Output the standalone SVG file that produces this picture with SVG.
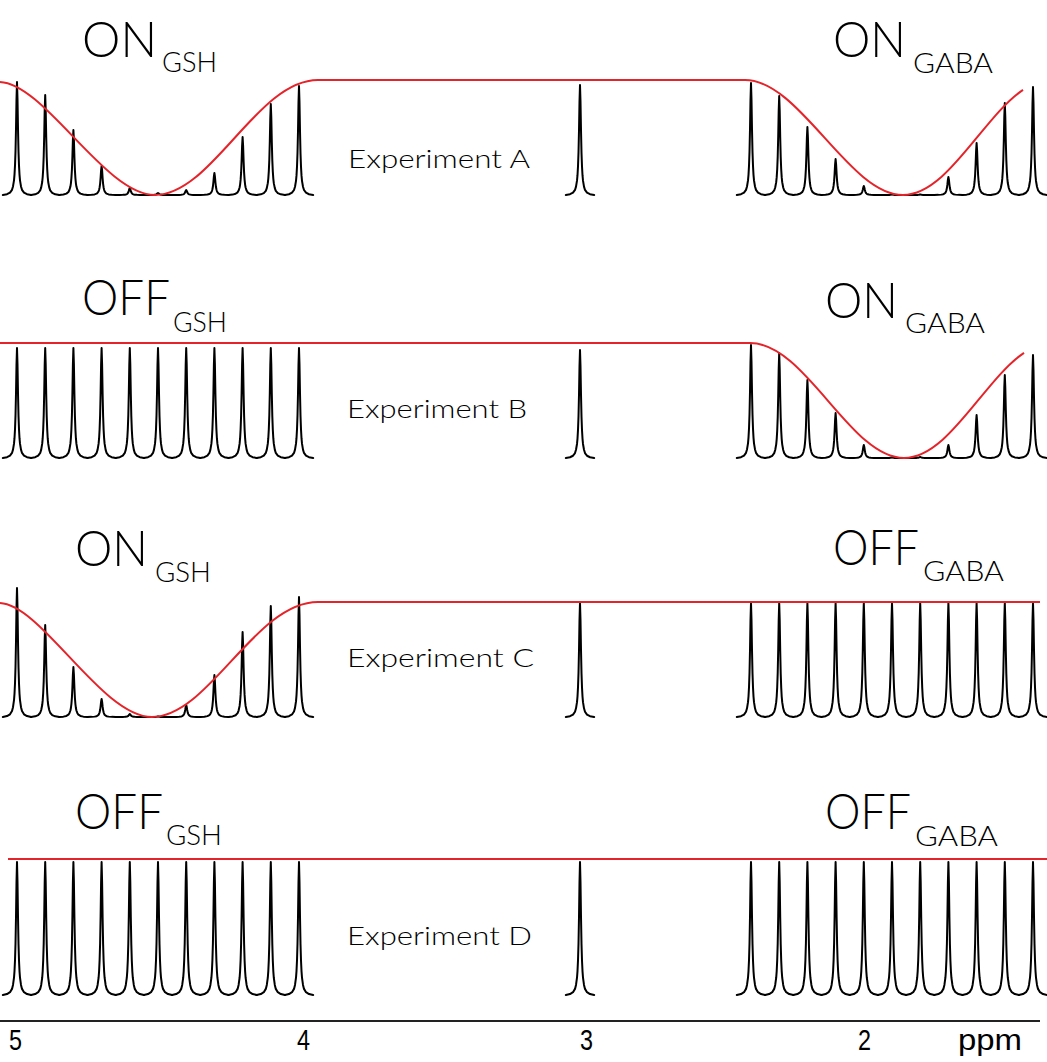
<svg xmlns="http://www.w3.org/2000/svg" xmlns:xlink="http://www.w3.org/1999/xlink" width="1047" height="1062" viewBox="0 0 1047 1062">
<style>
.pk{fill:none;stroke:#000;stroke-width:2;stroke-linejoin:round;stroke-linecap:round;vector-effect:non-scaling-stroke}
.red{fill:none;stroke:#e4242a;stroke-width:2}
.big{font-family:Lato,"Open Sans",sans-serif;font-weight:300;font-size:50px;fill:#000}
.sub{font-family:Lato,"Open Sans",sans-serif;font-weight:300;font-size:28px;fill:#000}
.exp{font-family:Lato,"Open Sans",sans-serif;font-weight:300;font-size:26px;fill:#000}
.ax{font-family:"Liberation Sans",Arial,sans-serif;font-size:29px;fill:#000}
</style>
<defs>
<path id="pk" class="pk" d="M-14.2,0 L-10,-0.7 L-7,-2.1 L-5,-4.6 L-4,-7.6 L-3,-13 L-2.5,-18 L-2,-26 L-1.5,-38.5 L-1,-58.8 L-0.5,-85 L0,-100 L0.5,-85 L1,-58.8 L1.5,-38.5 L2,-26 L2.5,-18 L3,-13 L4,-7.6 L5,-4.6 L7,-2.1 L10,-0.7 L14.2,0"/>
</defs>
<rect width="1047" height="1062" fill="#fff"/>

<g id="expA">
<use href="#pk" transform="translate(17,195) scale(1,1.13)"/>
<use href="#pk" transform="translate(45.2,195) scale(1,1.00)"/>
<use href="#pk" transform="translate(73.4,195) scale(1,0.65)"/>
<use href="#pk" transform="translate(101.6,195) scale(1,0.29)"/>
<use href="#pk" transform="translate(129.8,195) scale(1,0.07)"/>
<use href="#pk" transform="translate(158,195) scale(1,0.02)"/>
<use href="#pk" transform="translate(186.2,195) scale(1,0.05)"/>
<use href="#pk" transform="translate(214.4,195) scale(1,0.22)"/>
<use href="#pk" transform="translate(242.6,195) scale(1,0.58)"/>
<use href="#pk" transform="translate(270.8,195) scale(1,0.91)"/>
<use href="#pk" transform="translate(299,195) scale(1,1.09)"/>
<use href="#pk" transform="translate(580,195) scale(1,1.10)"/>
<use href="#pk" transform="translate(751,195) scale(1,1.12)"/>
<use href="#pk" transform="translate(779.2,195) scale(1,0.99)"/>
<use href="#pk" transform="translate(807.4,195) scale(1,0.68)"/>
<use href="#pk" transform="translate(835.6,195) scale(1,0.36)"/>
<use href="#pk" transform="translate(863.8,195) scale(1,0.09)"/>
<use href="#pk" transform="translate(892,195) scale(1,0.005)"/>
<use href="#pk" transform="translate(920.2,195) scale(1,0.005)"/>
<use href="#pk" transform="translate(948.4,195) scale(1,0.18)"/>
<use href="#pk" transform="translate(976.6,195) scale(1,0.52)"/>
<use href="#pk" transform="translate(1004.8,195) scale(1,0.92)"/>
<use href="#pk" transform="translate(1033,195) scale(1,1.08)"/>
<path class="red" d="M0,82 C45,84 105,195 155,195 C212,195 257,80 318,80 L745,80 C800,80 849,195 903,195 C947.3,195 982.1,117.7 1023,89.8"/>
<text class="big" x="82" y="57" textLength="75" lengthAdjust="spacingAndGlyphs">ON</text>
<text class="sub" x="162" y="72" textLength="55" lengthAdjust="spacingAndGlyphs">GSH</text>
<text class="big" x="833" y="57" textLength="73" lengthAdjust="spacingAndGlyphs">ON</text>
<text class="sub" x="913" y="73" textLength="80" lengthAdjust="spacingAndGlyphs">GABA</text>
<text class="exp" x="348" y="168" textLength="182" lengthAdjust="spacingAndGlyphs">Experiment A</text>
</g>

<g id="expB">
<use href="#pk" transform="translate(17,458) scale(1,1.10)"/>
<use href="#pk" transform="translate(45.2,458) scale(1,1.10)"/>
<use href="#pk" transform="translate(73.4,458) scale(1,1.10)"/>
<use href="#pk" transform="translate(101.6,458) scale(1,1.10)"/>
<use href="#pk" transform="translate(129.8,458) scale(1,1.10)"/>
<use href="#pk" transform="translate(158,458) scale(1,1.10)"/>
<use href="#pk" transform="translate(186.2,458) scale(1,1.10)"/>
<use href="#pk" transform="translate(214.4,458) scale(1,1.10)"/>
<use href="#pk" transform="translate(242.6,458) scale(1,1.10)"/>
<use href="#pk" transform="translate(270.8,458) scale(1,1.10)"/>
<use href="#pk" transform="translate(299,458) scale(1,1.10)"/>
<use href="#pk" transform="translate(580,458) scale(1,1.08)"/>
<use href="#pk" transform="translate(751,458) scale(1,1.13)"/>
<use href="#pk" transform="translate(779.2,458) scale(1,1.05)"/>
<use href="#pk" transform="translate(807.4,458) scale(1,0.78)"/>
<use href="#pk" transform="translate(835.6,458) scale(1,0.45)"/>
<use href="#pk" transform="translate(863.8,458) scale(1,0.13)"/>
<use href="#pk" transform="translate(892,458) scale(1,0.005)"/>
<use href="#pk" transform="translate(920.2,458) scale(1,0.01)"/>
<use href="#pk" transform="translate(948.4,458) scale(1,0.13)"/>
<use href="#pk" transform="translate(976.6,458) scale(1,0.43)"/>
<use href="#pk" transform="translate(1004.8,458) scale(1,0.83)"/>
<use href="#pk" transform="translate(1033,458) scale(1,1.03)"/>
<path class="red" d="M0,343 L750,343 C806,343 850,458 904,458 C948.3,458 983.1,380.7 1024,352.8"/>
<text class="big" x="82" y="315" textLength="88" lengthAdjust="spacingAndGlyphs">OFF</text>
<text class="sub" x="173" y="331.7" textLength="54" lengthAdjust="spacingAndGlyphs">GSH</text>
<text class="big" x="825" y="318" textLength="73" lengthAdjust="spacingAndGlyphs">ON</text>
<text class="sub" x="905" y="333" textLength="80" lengthAdjust="spacingAndGlyphs">GABA</text>
<text class="exp" x="347" y="418" textLength="180" lengthAdjust="spacingAndGlyphs">Experiment B</text>
</g>

<g id="expC">
<use href="#pk" transform="translate(17,717) scale(1,1.29)"/>
<use href="#pk" transform="translate(45.2,717) scale(1,0.92)"/>
<use href="#pk" transform="translate(73.4,717) scale(1,0.50)"/>
<use href="#pk" transform="translate(101.6,717) scale(1,0.18)"/>
<use href="#pk" transform="translate(129.8,717) scale(1,0.03)"/>
<use href="#pk" transform="translate(158,717) scale(1,0.005)"/>
<use href="#pk" transform="translate(186.2,717) scale(1,0.12)"/>
<use href="#pk" transform="translate(214.4,717) scale(1,0.42)"/>
<use href="#pk" transform="translate(242.6,717) scale(1,0.85)"/>
<use href="#pk" transform="translate(270.8,717) scale(1,1.11)"/>
<use href="#pk" transform="translate(299,717) scale(1,1.20)"/>
<use href="#pk" transform="translate(580,717) scale(1,1.14)"/>
<use href="#pk" transform="translate(751,717) scale(1,1.14)"/>
<use href="#pk" transform="translate(779.2,717) scale(1,1.14)"/>
<use href="#pk" transform="translate(807.4,717) scale(1,1.14)"/>
<use href="#pk" transform="translate(835.6,717) scale(1,1.14)"/>
<use href="#pk" transform="translate(863.8,717) scale(1,1.14)"/>
<use href="#pk" transform="translate(892,717) scale(1,1.14)"/>
<use href="#pk" transform="translate(920.2,717) scale(1,1.14)"/>
<use href="#pk" transform="translate(948.4,717) scale(1,1.14)"/>
<use href="#pk" transform="translate(976.6,717) scale(1,1.14)"/>
<use href="#pk" transform="translate(1004.8,717) scale(1,1.14)"/>
<use href="#pk" transform="translate(1033,717) scale(1,1.14)"/>
<path class="red" d="M0,603 C42,605 102,717 152,717 C209,717 255,602 318,602 L1040,602"/>
<text class="big" x="75" y="566" textLength="73" lengthAdjust="spacingAndGlyphs">ON</text>
<text class="sub" x="155" y="582" textLength="56" lengthAdjust="spacingAndGlyphs">GSH</text>
<text class="big" x="833" y="565" textLength="86" lengthAdjust="spacingAndGlyphs">OFF</text>
<text class="sub" x="923" y="581" textLength="81" lengthAdjust="spacingAndGlyphs">GABA</text>
<text class="exp" x="347" y="667" textLength="187" lengthAdjust="spacingAndGlyphs">Experiment C</text>
</g>

<g id="expD">
<use href="#pk" transform="translate(17,995) scale(1,1.33)"/>
<use href="#pk" transform="translate(45.2,995) scale(1,1.33)"/>
<use href="#pk" transform="translate(73.4,995) scale(1,1.33)"/>
<use href="#pk" transform="translate(101.6,995) scale(1,1.33)"/>
<use href="#pk" transform="translate(129.8,995) scale(1,1.33)"/>
<use href="#pk" transform="translate(158,995) scale(1,1.33)"/>
<use href="#pk" transform="translate(186.2,995) scale(1,1.33)"/>
<use href="#pk" transform="translate(214.4,995) scale(1,1.33)"/>
<use href="#pk" transform="translate(242.6,995) scale(1,1.33)"/>
<use href="#pk" transform="translate(270.8,995) scale(1,1.33)"/>
<use href="#pk" transform="translate(299,995) scale(1,1.33)"/>
<use href="#pk" transform="translate(580,995) scale(1,1.33)"/>
<use href="#pk" transform="translate(751,995) scale(1,1.33)"/>
<use href="#pk" transform="translate(779.2,995) scale(1,1.33)"/>
<use href="#pk" transform="translate(807.4,995) scale(1,1.33)"/>
<use href="#pk" transform="translate(835.6,995) scale(1,1.33)"/>
<use href="#pk" transform="translate(863.8,995) scale(1,1.33)"/>
<use href="#pk" transform="translate(892,995) scale(1,1.33)"/>
<use href="#pk" transform="translate(920.2,995) scale(1,1.33)"/>
<use href="#pk" transform="translate(948.4,995) scale(1,1.33)"/>
<use href="#pk" transform="translate(976.6,995) scale(1,1.33)"/>
<use href="#pk" transform="translate(1004.8,995) scale(1,1.33)"/>
<use href="#pk" transform="translate(1033,995) scale(1,1.33)"/>
<path class="red" d="M8,859 L1047,859"/>
<text class="big" x="75" y="829" textLength="88" lengthAdjust="spacingAndGlyphs">OFF</text>
<text class="sub" x="166" y="845" textLength="56" lengthAdjust="spacingAndGlyphs">GSH</text>
<text class="big" x="825" y="829" textLength="86" lengthAdjust="spacingAndGlyphs">OFF</text>
<text class="sub" x="915" y="846" textLength="83" lengthAdjust="spacingAndGlyphs">GABA</text>
<text class="exp" x="347" y="945" textLength="185" lengthAdjust="spacingAndGlyphs">Experiment D</text>
</g>

<g id="axis">
<line x1="0" y1="1021" x2="1040" y2="1021" stroke="#222" stroke-width="2"/>
<text class="ax" x="9" y="1050" textLength="13" lengthAdjust="spacingAndGlyphs">5</text>
<text class="ax" x="297" y="1050" textLength="13" lengthAdjust="spacingAndGlyphs">4</text>
<text class="ax" x="580" y="1050" textLength="13" lengthAdjust="spacingAndGlyphs">3</text>
<text class="ax" x="858" y="1050" textLength="13" lengthAdjust="spacingAndGlyphs">2</text>
<text class="ax" x="958" y="1050" textLength="64" lengthAdjust="spacingAndGlyphs">ppm</text>
</g>
</svg>
